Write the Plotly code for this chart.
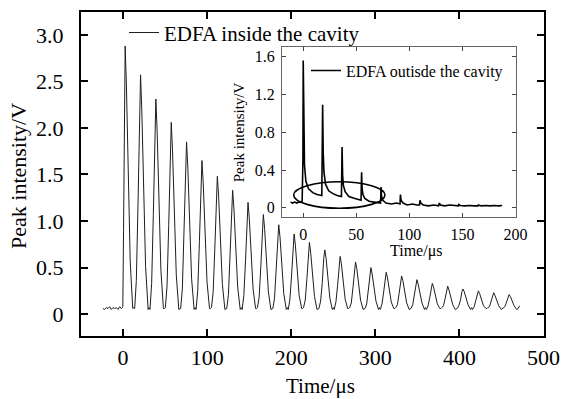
import plotly.graph_objects as go

# ---- Main trace: EDFA inside the cavity (time in microseconds, voltage in V) ----
main_time = [
    -24, -22, -20, -18, -16, -14, -12, -10, -8, -6, -4, -2, -1,
    -0.3, 0.6, 1.4, 2.5, 4.0, 6.0, 8.5, 11.5, 12.7,
    13.8, 15.8, 17.8, 19.5, 20.8, 22.3, 24.3, 26.8, 29.8, 31.0,
    32.0, 34.0, 36.0, 37.7, 39.0, 40.5, 42.5, 45.0, 48.0, 49.2,
    50.3, 52.3, 54.3, 56.0, 57.3, 58.8, 60.8, 63.3, 66.3, 67.5,
    68.5, 70.5, 72.5, 74.2, 75.5, 77.0, 79.0, 81.5, 84.5, 85.7,
    86.8, 88.8, 90.8, 92.5, 93.8, 95.3, 97.3, 99.8, 102.8, 104.0,
    105.1, 107.1, 109.1, 110.8, 112.1, 113.6, 115.6, 118.1, 121.1, 122.3,
    123.3, 125.3, 127.3, 129.0, 130.3, 131.8, 133.8, 136.3, 139.3, 140.5,
    141.6, 143.6, 145.6, 147.3, 148.6, 150.1, 152.1, 154.6, 157.6, 158.8,
    159.8, 161.8, 163.8, 165.5, 166.8, 168.3, 170.3, 172.8, 175.8, 177.0,
    178.1, 180.1, 182.1, 183.8, 185.1, 186.6, 188.6, 191.1, 194.1, 195.3,
    196.4, 198.4, 200.4, 202.1, 203.4, 204.9, 206.9, 209.4, 212.4, 213.6,
    214.6, 216.6, 218.6, 220.3, 221.6, 223.1, 225.1, 227.6, 230.6, 231.8,
    232.9, 234.9, 236.9, 238.6, 239.9, 241.4, 243.4, 245.9, 248.9, 250.1,
    251.1, 253.1, 255.1, 256.8, 258.1, 259.6, 261.6, 264.1, 267.1, 268.3,
    269.4, 271.4, 273.4, 275.1, 276.4, 277.9, 279.9, 282.4, 285.4, 286.6,
    287.7, 289.7, 291.7, 293.4, 294.7, 296.2, 298.2, 300.7, 303.7, 304.9,
    305.9, 307.9, 309.9, 311.6, 312.9, 314.4, 316.4, 318.9, 321.9, 323.1,
    324.2, 326.2, 328.2, 329.9, 331.2, 332.7, 334.7, 337.2, 340.2, 341.4,
    342.4, 344.4, 346.4, 348.1, 349.4, 350.9, 352.9, 355.4, 358.4, 359.6,
    360.7, 362.7, 364.7, 366.4, 367.7, 369.2, 371.2, 373.7, 376.7, 377.9,
    379.0, 381.0, 383.0, 384.7, 386.0, 387.5, 389.5, 392.0, 395.0, 396.2,
    397.2, 399.2, 401.2, 402.9, 404.2, 405.7, 407.7, 410.2, 413.2, 414.4,
    415.5, 417.5, 419.5, 421.2, 422.5, 424.0, 426.0, 428.5, 431.5, 432.7,
    433.7, 435.7, 437.7, 439.4, 440.7, 442.2, 444.2, 446.7, 449.7, 450.9,
    452.0, 454.0, 456.0, 457.7, 459.0, 460.5, 462.5, 465.0, 468.0, 469.8, 471.5,
]
main_volt = [
    0.06, 0.05, 0.07, 0.06, 0.08, 0.05, 0.07, 0.06, 0.07, 0.05, 0.08, 0.06, 0.07,
    0.08, 0.90, 2.20, 2.88, 2.46, 1.47, 0.57, 0.06, 0.07,
    0.06, 0.36, 1.19, 2.19, 2.57, 2.19, 1.32, 0.51, 0.05, 0.07,
    0.05, 0.33, 1.07, 1.97, 2.31, 1.97, 1.19, 0.47, 0.06, 0.06,
    0.07, 0.30, 0.96, 1.76, 2.06, 1.76, 1.06, 0.42, 0.05, 0.06,
    0.06, 0.27, 0.87, 1.58, 1.85, 1.58, 0.96, 0.38, 0.05, 0.07,
    0.05, 0.25, 0.78, 1.41, 1.65, 1.41, 0.86, 0.35, 0.06, 0.06,
    0.07, 0.23, 0.70, 1.27, 1.48, 1.27, 0.77, 0.32, 0.05, 0.06,
    0.06, 0.21, 0.63, 1.14, 1.33, 1.14, 0.70, 0.29, 0.05, 0.07,
    0.05, 0.20, 0.57, 1.03, 1.20, 1.03, 0.63, 0.27, 0.06, 0.06,
    0.07, 0.18, 0.51, 0.92, 1.07, 0.92, 0.57, 0.24, 0.05, 0.06,
    0.06, 0.17, 0.47, 0.83, 0.96, 0.83, 0.51, 0.22, 0.05, 0.07,
    0.05, 0.16, 0.42, 0.74, 0.86, 0.74, 0.46, 0.20, 0.06, 0.06,
    0.07, 0.15, 0.38, 0.66, 0.77, 0.66, 0.42, 0.19, 0.05, 0.06,
    0.06, 0.14, 0.34, 0.60, 0.69, 0.60, 0.38, 0.17, 0.05, 0.07,
    0.05, 0.13, 0.31, 0.54, 0.62, 0.54, 0.34, 0.16, 0.06, 0.06,
    0.07, 0.12, 0.29, 0.49, 0.56, 0.49, 0.31, 0.15, 0.05, 0.06,
    0.06, 0.11, 0.26, 0.43, 0.50, 0.43, 0.28, 0.14, 0.05, 0.07,
    0.05, 0.11, 0.24, 0.39, 0.45, 0.39, 0.26, 0.13, 0.06, 0.06,
    0.07, 0.10, 0.22, 0.36, 0.41, 0.36, 0.24, 0.12, 0.05, 0.06,
    0.06, 0.10, 0.20, 0.32, 0.37, 0.32, 0.22, 0.12, 0.05, 0.07,
    0.05, 0.09, 0.18, 0.29, 0.33, 0.29, 0.20, 0.11, 0.06, 0.06,
    0.07, 0.09, 0.17, 0.26, 0.30, 0.26, 0.18, 0.10, 0.05, 0.06,
    0.06, 0.09, 0.15, 0.24, 0.27, 0.24, 0.17, 0.10, 0.05, 0.07,
    0.05, 0.08, 0.15, 0.22, 0.25, 0.22, 0.16, 0.09, 0.06, 0.06,
    0.07, 0.08, 0.14, 0.20, 0.23, 0.20, 0.15, 0.09, 0.05, 0.06,
    0.06, 0.08, 0.13, 0.19, 0.21, 0.19, 0.14, 0.09, 0.05, 0.06, 0.09,
]

# ---- Inset trace: EDFA outside the cavity ----
inset_time = [
    -12, -10, -8, -6, -4, -2, -1, -0.3, 0, 0.5, 1.2, 2.5, 5, 9, 13, 17.5,
    18.0, 18.3, 18.8, 19.5, 21, 24, 28, 32, 36,
    36.3, 36.6, 37.1, 37.8, 39.5, 43, 48, 54.5,
    54.7, 55, 55.5, 56.3, 58, 62, 67, 72.8,
    73.1, 73.3, 73.8, 75, 78, 83, 88, 91.2,
    91.4, 91.6, 92.2, 94, 98, 103, 107, 109.6,
    109.8, 110, 110.8, 113, 118, 123, 127.5,
    128.1, 128.3, 129.2, 133, 138, 143, 146.3,
    146.6, 148, 152, 157, 161, 164.7, 165, 168, 172, 176, 180, 184, 187.5,
]
inset_volt = [
    0.06, 0.05, 0.06, 0.05, 0.06, 0.06, 0.07, 0.5, 1.56, 0.9, 0.45, 0.28, 0.2, 0.16, 0.14, 0.13,
    0.5, 1.09, 0.6, 0.38, 0.25, 0.18, 0.15, 0.13, 0.12,
    0.35, 0.645, 0.35, 0.24, 0.17, 0.12, 0.1, 0.08,
    0.2, 0.375, 0.2, 0.14, 0.1, 0.07, 0.06, 0.05,
    0.12, 0.22, 0.12, 0.08, 0.05, 0.04, 0.05, 0.04,
    0.09, 0.14, 0.08, 0.05, 0.03, 0.04, 0.03, 0.03,
    0.06, 0.08, 0.05, 0.03, 0.02, 0.03, 0.02,
    0.04, 0.05, 0.03, 0.02, 0.03, 0.02, 0.02,
    0.035, 0.025, 0.02, 0.025, 0.02, 0.02, 0.03, 0.02, 0.025, 0.02, 0.025, 0.02, 0.025,
]

# Tick values / labels
main_xticks = [0, 100, 200, 300, 400, 500]
main_yticks = [0, 0.5, 1.0, 1.5, 2.0, 2.5, 3.0]
main_ylabels = ["0", "0.5", "1.0", "1.5", "2.0", "2.5", "3.0"]
inset_xticks = [0, 50, 100, 150, 200]
inset_yticks = [0, 0.4, 0.8, 1.2, 1.6]
inset_ylabels = ["0", "0.4", "0.8", "1.2", "1.6"]

# Ellipse highlighting the tails of the inset pulses (inset data units)
ellipse_t = [-9, 77]
ellipse_v = [-0.005, 0.275]

FONT = "Liberation Serif"
W, H = 574, 399
ML, MR, MT, MB = 81, 30, 10, 63
pw, ph = W - ML - MR, H - MT - MB


def px(xp):
    return (xp - ML) / pw


def py(yp):
    return (H - MB - yp) / ph


fig = go.Figure()
fig.add_trace(go.Scatter(
    x=main_time, y=main_volt, mode="lines",
    line=dict(color="#1e1e1e", width=1),
    name="EDFA inside the cavity", legend="legend",
))
fig.add_trace(go.Scatter(
    x=inset_time, y=inset_volt, mode="lines", xaxis="x2", yaxis="y2",
    line=dict(color="black", width=1.6),
    name="EDFA outisde the cavity", legend="legend2",
))

main_axis = dict(
    showgrid=False, zeroline=False, showline=True, linecolor="black", linewidth=2,
    mirror="ticks", ticks="inside", ticklen=7, tickwidth=2, tickcolor="black",
    tickfont=dict(family=FONT, size=22, color="black"),
)
inset_axis = dict(
    showgrid=False, zeroline=False, showline=True, linecolor="#666", linewidth=1,
    mirror="ticks", ticks="inside", ticklen=4, tickwidth=1, tickcolor="#444",
    tickfont=dict(family=FONT, size=16, color="black"),
)

fig.update_layout(
    width=W, height=H, autosize=False,
    font=dict(family=FONT, color="black"),
    margin=dict(l=ML, r=MR, t=MT, b=MB, pad=0),
    paper_bgcolor="white", plot_bgcolor="white",
    xaxis=dict(main_axis, domain=[0, 1], range=[-50, 500.5], tickvals=main_xticks,
               ticklabelstandoff=1),
    yaxis=dict(main_axis, domain=[0, 1], range=[-0.235, 3.245], tickvals=main_yticks,
               ticktext=main_ylabels, ticklabelstandoff=11),
    xaxis2=dict(inset_axis, domain=[px(282), px(516)], anchor="y2", range=[-20, 200.5],
                tickvals=inset_xticks, ticklabelstandoff=3),
    yaxis2=dict(inset_axis, domain=[py(216.5), py(45.5)], anchor="x2", range=[-0.1, 1.7],
                tickvals=inset_yticks, ticktext=inset_ylabels, ticklabelstandoff=3),
    showlegend=True,
    legend=dict(x=px(124), y=py(31), xanchor="left", yanchor="middle",
                bgcolor="rgba(0,0,0,0)", font=dict(family=FONT, size=21, color="black"),
                itemwidth=30),
    legend2=dict(x=px(306), y=py(69), xanchor="left", yanchor="middle",
                 bgcolor="rgba(0,0,0,0)", font=dict(family=FONT, size=16, color="black"),
                 itemwidth=30),
    shapes=[dict(type="circle", xref="x2", yref="y2",
                 x0=ellipse_t[0], x1=ellipse_t[1], y0=ellipse_v[0], y1=ellipse_v[1],
                 line=dict(color="black", width=1.6))],
    annotations=[
        dict(text="Time/μs", x=px(320), y=py(386), xref="paper", yref="paper",
             showarrow=False, xanchor="center", yanchor="middle",
             font=dict(family=FONT, size=21, color="black")),
        dict(text="Peak intensity/V", x=px(19), y=py(175), xref="paper", yref="paper",
             showarrow=False, xanchor="center", yanchor="middle", textangle=-90,
             font=dict(family=FONT, size=22, color="black")),
        dict(text="Time/μs", x=px(416), y=py(250), xref="paper", yref="paper",
             showarrow=False, xanchor="center", yanchor="middle",
             font=dict(family=FONT, size=16, color="black")),
        dict(text="Peak intensity/V", x=px(239), y=py(131), xref="paper", yref="paper",
             showarrow=False, xanchor="center", yanchor="middle", textangle=-90,
             font=dict(family=FONT, size=15, color="black")),
    ],
)

fig.write_html("out.html")
